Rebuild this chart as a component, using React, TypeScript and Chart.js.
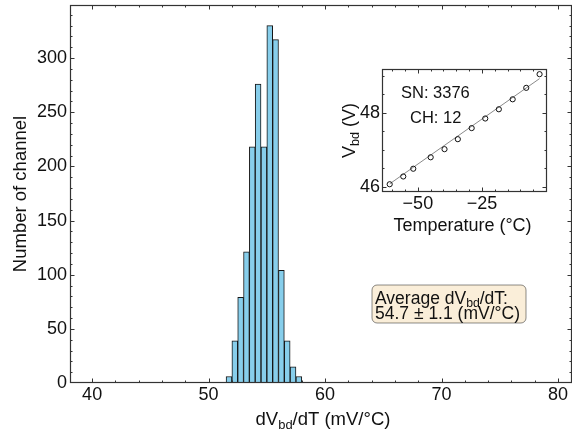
import React, { useEffect, useRef } from "react";
import { Chart, registerables } from "chart.js";

Chart.register(...registerables);

// ---- Main histogram data ----
const binCenters = [51.75, 52.25, 52.75, 53.25, 53.75, 54.25, 54.75, 55.25, 55.75, 56.25, 56.75, 57.25, 57.75];
const counts = [6, 39, 79, 121, 218, 276, 218, 330, 317, 104, 39, 15, 6];
const xTicks = [40, 50, 60, 70, 80];
const yTicks = [0, 50, 100, 150, 200, 250, 300];

// ---- Inset data ----
const insetTemp = [-61, -55.7, -51.8, -45, -39.6, -34.4, -29, -23.7, -18.4, -13, -7.7, -2.5];
const insetVbd = [46.07, 46.28, 46.49, 46.8, 47.02, 47.29, 47.59, 47.85, 48.1, 48.37, 48.68, 49.05];
const fitTemp = [-61, -2.5];
const fitVbd = [46.08, 48.93];
const insetXTicks = [-50, -25];
const insetYTicks = [46, 48];

const FONT = "'Liberation Sans', Arial, Helvetica, sans-serif";
const TXT = "#111";

type Part = { t: string; sub?: boolean };

function partsWidth(ctx: CanvasRenderingContext2D, parts: Part[], size: number) {
  let w = 0;
  for (const p of parts) {
    ctx.font = `${p.sub ? size * 0.7 : size}px ${FONT}`;
    w += ctx.measureText(p.t).width;
  }
  return w;
}

function drawRich(ctx: CanvasRenderingContext2D, parts: Part[], x: number, y: number, size: number, align: "left" | "center") {
  const w = partsWidth(ctx, parts, size);
  let cx = align === "center" ? x - w / 2 : x;
  ctx.textAlign = "left";
  ctx.textBaseline = "alphabetic";
  ctx.fillStyle = TXT;
  for (const p of parts) {
    const s = p.sub ? size * 0.7 : size;
    ctx.font = `${s}px ${FONT}`;
    ctx.fillText(p.t, cx, p.sub ? y + size * 0.22 : y);
    cx += ctx.measureText(p.t).width;
  }
}

function drawTicksFrame(chart: any, xMinorStep: number, yMinorStep: number, xMajor: number[], yMajor: number[]) {
  const ctx = chart.ctx as CanvasRenderingContext2D;
  const a = chart.chartArea;
  const xs = chart.scales.x;
  const ys = chart.scales.y;
  ctx.save();
  ctx.strokeStyle = "#333";
  ctx.lineWidth = 1;
  const maj = 4.5;
  const min = 2.5;
  const drawX = (v: number, len: number) => {
    const px = Math.round(xs.getPixelForValue(v)) + 0.5;
    if (px < a.left || px > a.right) return;
    ctx.beginPath();
    ctx.moveTo(px, a.bottom);
    ctx.lineTo(px, a.bottom - len);
    ctx.moveTo(px, a.top);
    ctx.lineTo(px, a.top + len);
    ctx.stroke();
  };
  const drawY = (v: number, len: number) => {
    const py = Math.round(ys.getPixelForValue(v)) + 0.5;
    if (py < a.top || py > a.bottom) return;
    ctx.beginPath();
    ctx.moveTo(a.left, py);
    ctx.lineTo(a.left + len, py);
    ctx.moveTo(a.right, py);
    ctx.lineTo(a.right - len, py);
    ctx.stroke();
  };
  const x0 = Math.ceil(xs.min / xMinorStep) * xMinorStep;
  for (let v = x0; v <= xs.max + 1e-9; v += xMinorStep) {
    const isMaj = xMajor.some((m) => Math.abs(m - v) < 1e-6);
    drawX(v, isMaj ? maj : min);
  }
  const y0 = Math.ceil(ys.min / yMinorStep) * yMinorStep;
  for (let v = y0; v <= ys.max + 1e-9; v += yMinorStep) {
    const isMaj = yMajor.some((m) => Math.abs(m - v) < 1e-6);
    drawY(v, isMaj ? maj : min);
  }
  ctx.lineWidth = 1.2;
  ctx.strokeRect(a.left + 0.5, a.top + 0.5, a.right - a.left - 1, a.bottom - a.top - 1);
  ctx.restore();
}

const mainPlugin = {
  id: "mainDecor",
  afterDraw(chart: any) {
    const ctx = chart.ctx as CanvasRenderingContext2D;
    const a = chart.chartArea;
    drawTicksFrame(chart, 2, 10, xTicks, yTicks);
    ctx.save();
    // x title
    drawRich(ctx, [{ t: "dV" }, { t: "bd", sub: true }, { t: "/dT (mV/°C)" }], (a.left + a.right) / 2 + 2, 425, 18.5, "center");
    // y title
    ctx.save();
    ctx.translate(26, (a.top + a.bottom) / 2);
    ctx.rotate(-Math.PI / 2);
    drawRich(ctx, [{ t: "Number of channel" }], 0, 0, 18.5, "center");
    ctx.restore();
    // annotation box
    const bx = 372, by = 285, bw = 154, bh = 38, r = 5;
    ctx.beginPath();
    ctx.moveTo(bx + r, by);
    ctx.arcTo(bx + bw, by, bx + bw, by + bh, r);
    ctx.arcTo(bx + bw, by + bh, bx, by + bh, r);
    ctx.arcTo(bx, by + bh, bx, by, r);
    ctx.arcTo(bx, by, bx + bw, by, r);
    ctx.closePath();
    ctx.fillStyle = "rgba(245,222,179,0.5)";
    ctx.fill();
    ctx.strokeStyle = "rgba(0,0,0,0.45)";
    ctx.lineWidth = 1;
    ctx.stroke();
    drawRich(ctx, [{ t: "Average dV" }, { t: "bd", sub: true }, { t: "/dT:" }], 375, 303.5, 17.5, "left");
    drawRich(ctx, [{ t: "54.7 ± 1.1 (mV/°C)" }], 375, 318.5, 17.5, "left");
    ctx.restore();
  },
};

const insetPlugin = {
  id: "insetDecor",
  beforeDraw(chart: any) {
    const ctx = chart.ctx as CanvasRenderingContext2D;
    const a = chart.chartArea;
    ctx.save();
    ctx.fillStyle = "#fff";
    ctx.fillRect(a.left, a.top, a.right - a.left, a.bottom - a.top);
    ctx.restore();
  },
  afterDraw(chart: any) {
    const ctx = chart.ctx as CanvasRenderingContext2D;
    const a = chart.chartArea;
    drawTicksFrame(chart, 5, 0.5, insetXTicks, insetYTicks);
    ctx.save();
    drawRich(ctx, [{ t: "Temperature (°C)" }], (a.left + a.right) / 2 - 2, 176, 18, "center");
    ctx.save();
    ctx.translate(25, (a.top + a.bottom) / 2);
    ctx.rotate(-Math.PI / 2);
    drawRich(ctx, [{ t: "V" }, { t: "bd", sub: true }, { t: " (V)" }], 0, 0, 18, "center");
    ctx.restore();
    drawRich(ctx, [{ t: "SN: 3376" }], 71, 43, 16.5, "left");
    drawRich(ctx, [{ t: "CH: 12" }], 80, 68, 16.5, "left");
    ctx.restore();
  },
};

const zeroPad = (s: any) => {
  s.paddingTop = 0;
  s.paddingBottom = 0;
  s.paddingLeft = 0;
  s.paddingRight = 0;
};

export default function App() {
  const mainRef = useRef<HTMLCanvasElement | null>(null);
  const insetRef = useRef<HTMLCanvasElement | null>(null);

  useEffect(() => {
    document.body.style.margin = "0";
    const mainChart = new Chart(mainRef.current as HTMLCanvasElement, {
      type: "bar",
      data: {
        datasets: [
          {
            data: binCenters.map((x, i) => ({ x, y: counts[i] })),
            backgroundColor: "#87CEEB",
            borderColor: "#151515",
            borderWidth: 1,
            barPercentage: 1,
            categoryPercentage: 1,
            grouped: false,
          } as any,
        ],
      },
      options: {
        animation: false,
        responsive: false,
        devicePixelRatio: 1,
        layout: { padding: { top: 5, right: 0, left: 0, bottom: 0 } },
        plugins: { legend: { display: false }, tooltip: { enabled: false } },
        scales: {
          x: {
            type: "linear",
            min: 38.1,
            max: 81.2,
            offset: false,
            grid: { display: false, drawTicks: false },
            border: { display: false },
            afterBuildTicks: (s: any) => {
              s.ticks = xTicks.map((v) => ({ value: v }));
            },
            afterFit: (s: any) => {
              s.height = 49;
              zeroPad(s);
            },
            ticks: { font: { family: FONT, size: 18 }, color: TXT, padding: 1, maxRotation: 0, autoSkip: false },
          },
          y: {
            type: "linear",
            min: 0,
            max: 349,
            grid: { display: false, drawTicks: false },
            border: { display: false },
            afterBuildTicks: (s: any) => {
              s.ticks = yTicks.map((v) => ({ value: v }));
            },
            afterFit: (s: any) => {
              s.width = 70;
              zeroPad(s);
            },
            ticks: { font: { family: FONT, size: 18 }, color: TXT, padding: 3, autoSkip: false },
          },
        },
      },
      plugins: [mainPlugin],
    });

    const insetChart = new Chart(insetRef.current as HTMLCanvasElement, {
      type: "scatter",
      data: {
        datasets: [
          {
            data: insetTemp.map((x, i) => ({ x, y: insetVbd[i] })),
            pointRadius: 2.6,
            pointBackgroundColor: "rgba(255,255,255,0)",
            pointBorderColor: "#111",
            pointBorderWidth: 1,
            showLine: false,
          },
          {
            data: fitTemp.map((x, i) => ({ x, y: fitVbd[i] })),
            showLine: true,
            pointRadius: 0,
            borderColor: "#8a8a8a",
            borderWidth: 1,
          },
        ],
      },
      options: {
        animation: false,
        responsive: false,
        devicePixelRatio: 1,
        layout: { padding: { top: 14, right: 13, left: 0, bottom: 0 } },
        plugins: { legend: { display: false }, tooltip: { enabled: false } },
        scales: {
          x: {
            type: "linear",
            min: -64,
            max: 0.4,
            grid: { display: false, drawTicks: false },
            border: { display: false },
            afterBuildTicks: (s: any) => {
              s.ticks = insetXTicks.map((v) => ({ value: v }));
            },
            afterFit: (s: any) => {
              s.height = 53;
              zeroPad(s);
            },
            ticks: {
              font: { family: FONT, size: 18 },
              color: TXT,
              padding: 1,
              maxRotation: 0,
              autoSkip: false,
              callback: (v: any) => (Number(v) < 0 ? "\u2212" + Math.abs(Number(v)) : String(v)),
            },
          },
          y: {
            type: "linear",
            min: 45.86,
            max: 49.19,
            grid: { display: false, drawTicks: false },
            border: { display: false },
            afterBuildTicks: (s: any) => {
              s.ticks = insetYTicks.map((v) => ({ value: v }));
            },
            afterFit: (s: any) => {
              s.width = 52;
              zeroPad(s);
            },
            ticks: { font: { family: FONT, size: 18 }, color: TXT, padding: 2, autoSkip: false },
          },
        },
      },
      plugins: [insetPlugin],
    });

    return () => {
      mainChart.destroy();
      insetChart.destroy();
    };
  }, []);

  return (
    <div style={{ position: "relative", width: 572, height: 432, background: "#fff" }}>
      <canvas ref={mainRef} width={572} height={432} style={{ position: "absolute", left: 0, top: 0, width: 572, height: 432 }} />
      <canvas ref={insetRef} width={230} height={190} style={{ position: "absolute", left: 330, top: 55, width: 230, height: 190 }} />
    </div>
  );
}
